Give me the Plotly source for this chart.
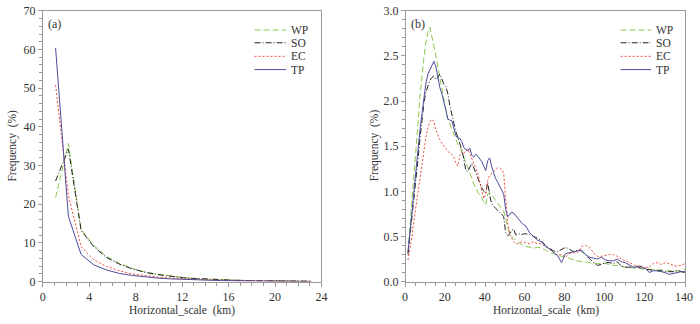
import plotly.graph_objects as go

# ---------------- data ----------------
# panel (a)
scale_a = [1.1, 2.2, 3.3, 4.4, 5.5, 6.6, 7.7, 8.8, 9.9, 11.0, 12.1, 13.2, 14.3, 15.4,
           16.5, 17.6, 18.7, 19.8, 20.9, 22.0, 23.1]
wp_a = [21.7, 35.7, 13.5, 9.3, 6.5, 4.7, 3.4, 2.5, 1.9, 1.4, 1.05, 0.8, 0.62, 0.48,
        0.37, 0.29, 0.22, 0.17, 0.13, 0.1, 0.08]
so_a = [26.0, 34.3, 13.2, 9.0, 6.2, 4.5, 3.3, 2.4, 1.8, 1.35, 1.0, 0.78, 0.6, 0.46,
        0.36, 0.28, 0.22, 0.17, 0.13, 0.1, 0.08]
ec_a = [50.8, 22.3, 9.0, 5.6, 3.9, 2.8, 2.0, 1.5, 1.15, 0.9, 0.7, 0.55, 0.43, 0.34,
        0.27, 0.21, 0.17, 0.13, 0.1, 0.08, 0.06]
tp_a = [60.4, 16.9, 7.0, 4.3, 3.0, 2.1, 1.6, 1.2, 0.9, 0.7, 0.55, 0.42, 0.33, 0.26,
        0.2, 0.16, 0.13, 0.1, 0.08, 0.06, 0.05]

# panel (b)
scale_b = list(range(1, 61)) + list(range(62, 141, 2))
wp_b = [0.33, 0.6, 0.85, 1.12, 1.45, 1.75, 2.05, 2.3, 2.48, 2.65,
        2.76, 2.82, 2.72, 2.62, 2.5, 2.38, 2.26, 2.1, 2.0, 1.9,
        1.8, 1.74, 1.68, 1.62, 1.57, 1.52, 1.49, 1.44, 1.38, 1.32,
        1.27, 1.21, 1.15, 1.08, 1.03, 0.99, 0.96, 0.92, 0.88, 0.85,
        0.97, 0.99, 0.96, 0.93, 0.91, 0.88, 0.85, 0.82, 0.78, 0.7,
        0.6, 0.54, 0.5, 0.48, 0.46, 0.44, 0.42, 0.41, 0.4, 0.39,
        0.38, 0.37, 0.38, 0.37, 0.35, 0.32, 0.31, 0.29, 0.28, 0.27,
        0.26, 0.24, 0.23, 0.22, 0.22, 0.21, 0.2, 0.2, 0.2, 0.2,
        0.19, 0.18, 0.18, 0.17, 0.16, 0.16, 0.15, 0.15, 0.14, 0.14,
        0.14, 0.13, 0.13, 0.13, 0.12, 0.12, 0.12, 0.12, 0.13, 0.14]
so_b = [0.3, 0.5, 0.72, 0.9, 1.12, 1.35, 1.58, 1.78, 1.98, 2.1,
        2.18, 2.23, 2.26, 2.28, 2.24, 2.26, 2.3, 2.24, 2.19, 2.16,
        2.08, 1.95, 1.84, 1.76, 1.66, 1.6, 1.54, 1.46, 1.36, 1.23,
        1.22, 1.27, 1.31, 1.26, 1.2, 1.15, 1.1, 1.04, 1.0, 0.98,
        1.1, 0.95, 0.86, 0.83, 0.81, 0.79, 0.77, 0.75, 0.72, 0.54,
        0.51, 0.53, 0.57, 0.58, 0.52, 0.52, 0.53, 0.52, 0.53, 0.53,
        0.52, 0.5, 0.48, 0.45, 0.4, 0.37, 0.34, 0.33, 0.36, 0.38,
        0.36, 0.33, 0.35, 0.34, 0.3, 0.25, 0.21, 0.18, 0.19, 0.21,
        0.21, 0.2, 0.22, 0.17, 0.16, 0.16, 0.16, 0.17, 0.17, 0.14,
        0.13, 0.13, 0.12, 0.12, 0.11, 0.11, 0.11, 0.12, 0.11, 0.1]
ec_b = [0.24, 0.35, 0.5, 0.68, 0.84, 1.0, 1.17, 1.33, 1.48, 1.6,
        1.7, 1.77, 1.8, 1.77, 1.68, 1.62, 1.57, 1.53, 1.5, 1.47,
        1.44, 1.42, 1.41, 1.38, 1.31, 1.28, 1.4, 1.44, 1.42, 1.46,
        1.47, 1.42, 1.36, 1.32, 1.27, 1.2, 1.1, 1.0, 0.92, 0.97,
        1.12, 1.18, 1.2, 1.21, 1.24, 1.26, 1.26, 1.24, 1.2, 0.95,
        0.65, 0.52, 0.47, 0.44, 0.42, 0.42, 0.43, 0.44, 0.44, 0.43,
        0.42, 0.44, 0.42, 0.42, 0.39, 0.36, 0.32, 0.29, 0.3, 0.27,
        0.31, 0.32, 0.32, 0.39, 0.4, 0.38, 0.32, 0.28, 0.28, 0.29,
        0.3, 0.3, 0.28, 0.25, 0.23, 0.21, 0.19, 0.17, 0.16, 0.16,
        0.16, 0.2, 0.21, 0.19, 0.21, 0.2, 0.18, 0.17, 0.18, 0.2]
tp_b = [0.32, 0.55, 0.78, 1.05, 1.3, 1.5, 1.68, 1.86, 2.04, 2.2,
        2.3, 2.35, 2.4, 2.44, 2.38, 2.25, 2.15, 2.08, 2.0, 1.9,
        1.8, 1.79, 1.78, 1.7, 1.62, 1.59, 1.59, 1.55, 1.49, 1.46,
        1.45, 1.48, 1.4, 1.38, 1.41, 1.39, 1.36, 1.33, 1.28, 1.23,
        1.34, 1.37, 1.27, 1.2, 1.14, 1.1, 1.05, 1.01, 0.97, 0.8,
        0.72, 0.74, 0.77, 0.76, 0.73, 0.7, 0.67, 0.65, 0.63, 0.62,
        0.54, 0.5, 0.46, 0.44, 0.39, 0.36, 0.33, 0.29, 0.21, 0.31,
        0.32, 0.33, 0.34, 0.35, 0.3, 0.27, 0.26, 0.25, 0.27, 0.24,
        0.23, 0.23, 0.25, 0.22, 0.21, 0.18, 0.16, 0.16, 0.15, 0.15,
        0.1, 0.12, 0.12, 0.11, 0.1, 0.08, 0.09, 0.1, 0.11, 0.11]

names = ["WP", "SO", "EC", "TP"]
colors = ["#8cc653", "#222222", "#ef4a3c", "#4c4c9e"]
dashes = ["6px,3px", "6px,2px,1px,2px", "2px,2px", "solid"]

FONT = "Times New Roman, Liberation Serif, serif"
TXT = "#333333"
AX = "#9a9a9a"

fig = go.Figure()
series_a = [wp_a, so_a, ec_a, tp_a]
series_b = [wp_b, so_b, ec_b, tp_b]
for n, c, d, ya in zip(names, colors, dashes, series_a):
    fig.add_trace(go.Scatter(x=scale_a, y=ya, mode="lines", name=n, showlegend=False,
                             line=dict(color=c, width=1.0, dash=d), xaxis="x", yaxis="y"))
for n, c, d, yb in zip(names, colors, dashes, series_b):
    fig.add_trace(go.Scatter(x=scale_b, y=yb, mode="lines", name=n, showlegend=False,
                             line=dict(color=c, width=1.0, dash=d), xaxis="x2", yaxis="y2"))

ydom = [37 / 324, 320 / 324]
common = dict(showline=True, linecolor=AX, linewidth=1, mirror=True, ticks="outside",
              ticklen=4, tickcolor=AX, showgrid=False, zeroline=False,
              ticklabeloverflow="allow",
              tickfont=dict(family=FONT, size=12, color=TXT))
fig.update_layout(
    width=700, height=324, margin=dict(l=0, r=0, t=0, b=0),
    paper_bgcolor="white", plot_bgcolor="white",
    font=dict(family=FONT, color=TXT),
    xaxis=dict(domain=[39.5 / 700, 323 / 700], range=[0, 24], dtick=4, tick0=0,
               minor=dict(dtick=1, ticklen=3, tickcolor=AX, ticks="outside"),
               anchor="y", **common),
    yaxis=dict(domain=ydom, range=[0, 70], dtick=10, tick0=0,
               minor=dict(dtick=2, ticklen=3, tickcolor=AX, ticks="outside"),
               anchor="x", **common),
    xaxis2=dict(domain=[409 / 700, 693 / 700], range=[0, 140], dtick=20, tick0=0,
                minor=dict(dtick=5, ticklen=3, tickcolor=AX, ticks="outside"),
                ticklabelshift=-1, anchor="y2", **common),
    yaxis2=dict(domain=ydom, range=[0, 3.0], dtick=0.5, tick0=0, tickformat=".1f",
                minor=dict(dtick=0.1, ticklen=3, tickcolor=AX, ticks="outside"),
                anchor="x2", **common),
)

# axis titles
TF = dict(family=FONT, size=11.5, color=TXT)
for xc in ((39.5 + 323) / 2 / 700, (409 + 693) / 2 / 700):
    fig.add_annotation(x=xc, y=(324 - 317) / 324, xref="paper", yref="paper",
                       text="Horizontal_scale  (km)", showarrow=False,
                       xanchor="center", yanchor="middle", font=TF)
for xc in (9 / 700, 377 / 700):
    fig.add_annotation(x=xc, y=(324 - 145) / 324, xref="paper", yref="paper",
                       text="Frequency  (%)", showarrow=False, textangle=-90,
                       xanchor="center", yanchor="middle", font=TF)

# panel labels
for ax, lab in (("x", "(a)"), ("x2", "(b)")):
    yref = "y domain" if ax == "x" else "y2 domain"
    fig.add_annotation(x=0.012, y=0.985, xref=ax + " domain", yref=yref, text=lab,
                       showarrow=False, xanchor="left", yanchor="top",
                       font=dict(family=FONT, size=12, color=TXT))

# manual legends
leg_y = [0.929, 0.882, 0.832, 0.783]
for ax, yref, x0, x1, xt in (("x domain", "y domain", 0.760, 0.873, 0.882),
                             ("x2 domain", "y2 domain", 0.769, 0.878, 0.889)):
    for n, c, d, yy in zip(names, colors, dashes, leg_y):
        fig.add_shape(type="line", xref=ax, yref=yref, x0=x0, x1=x1, y0=yy, y1=yy,
                      line=dict(color=c, width=1.0, dash=d))
        fig.add_annotation(x=xt, y=yy, xref=ax, yref=yref, text=n, showarrow=False,
                           xanchor="left", yanchor="middle",
                           font=dict(family=FONT, size=11.5, color=TXT))

fig.write_html("out.html", config={"displayModeBar": False},
               post_script="document.body.style.margin='0';document.body.style.overflow='hidden';")
